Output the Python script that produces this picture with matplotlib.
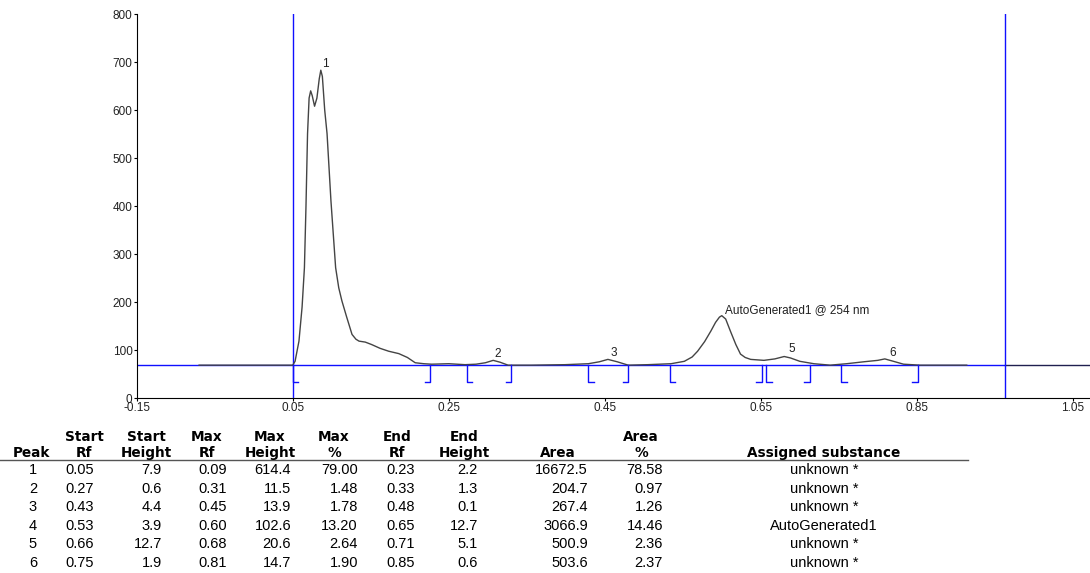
import matplotlib
matplotlib.use("Agg")
import matplotlib.pyplot as plt

plt.rcParams['font.family'] = ['Liberation Sans', 'DejaVu Sans']

# densitogram trace (Rf, AU)
rf = [-0.07, 0.00, 0.05, 0.053, 0.058, 0.062, 0.065, 0.067, 0.069, 0.071, 0.073, 0.075,
      0.078, 0.081, 0.084, 0.086, 0.088, 0.091, 0.094, 0.099, 0.105, 0.109, 0.113, 0.119,
      0.126, 0.131, 0.135, 0.143, 0.151, 0.162, 0.173, 0.186, 0.197, 0.207, 0.218, 0.228,
      0.25, 0.271, 0.285, 0.297, 0.307, 0.316, 0.326, 0.356, 0.399, 0.429, 0.443, 0.454,
      0.466, 0.48, 0.505, 0.535, 0.552, 0.562, 0.569, 0.578, 0.586, 0.592, 0.597, 0.600,
      0.605, 0.611, 0.618, 0.624, 0.630, 0.637, 0.654, 0.668, 0.680, 0.688, 0.70, 0.718,
      0.739, 0.76, 0.782, 0.80, 0.809, 0.82, 0.833, 0.854, 0.914]
au = [69, 69, 69, 77, 119, 190, 272, 400, 551, 625, 640, 630,
      608, 625, 665, 683, 670, 600, 551, 411, 272, 230, 203, 170,
      133, 123, 119, 117, 112, 104, 98, 93, 85, 74, 72, 71,
      72, 70, 71, 74, 79, 75, 69, 69, 70, 72, 76, 81,
      76, 69, 70, 72, 77, 86, 98, 118, 140, 158, 169, 172,
      165, 140, 112, 92, 85, 81, 79, 82, 87, 84, 77, 72,
      69, 72, 76, 79, 82, 77, 71, 69, 69]

baseline = 69
front_rf = 0.963
app_rf = 0.05

# integration limits as drawn
mark_start = [0.05, 0.273, 0.429, 0.533, 0.657, 0.753]
mark_end = [0.226, 0.33, 0.48, 0.651, 0.713, 0.851]

# peak labels
lab_text = ['1', '2', '3', 'AutoGenerated1 @ 254 nm', '5', '6']
lab_x = [0.092, 0.313, 0.461, 0.604, 0.69, 0.819]
lab_y = [695, 92, 95, 184, 103, 95]

# peak table
peak = [1, 2, 3, 4, 5, 6]
start_rf = [0.05, 0.27, 0.43, 0.53, 0.66, 0.75]
start_height = [7.9, 0.6, 4.4, 3.9, 12.7, 1.9]
max_rf = [0.09, 0.31, 0.45, 0.60, 0.68, 0.81]
max_height = [614.4, 11.5, 13.9, 102.6, 20.6, 14.7]
max_pct = [79.00, 1.48, 1.78, 13.20, 2.64, 1.90]
end_rf = [0.23, 0.33, 0.48, 0.65, 0.71, 0.85]
end_height = [2.2, 1.3, 0.1, 12.7, 5.1, 0.6]
area = [16672.5, 204.7, 267.4, 3066.9, 500.9, 503.6]
area_pct = [78.58, 0.97, 1.26, 14.46, 2.36, 2.37]
substance = ['unknown *', 'unknown *', 'unknown *', 'AutoGenerated1', 'unknown *', 'unknown *']

W, H = 1090, 573
fig = plt.figure(figsize=(W / 100, H / 100), dpi=100)
ax = fig.add_axes([136.7 / W, 1 - 398.3 / H, (W - 136.7) / W, (398.3 - 14) / H])

blue = '#1010ff'
ax.plot([-0.15, front_rf], [baseline, baseline], color=blue, lw=1)
ax.plot([front_rf, 1.072], [baseline, baseline], color='#202050', lw=1)
ax.axvline(app_rf, color=blue, lw=1)
ax.axvline(front_rf, color=blue, lw=1)
ax.plot(rf, au, color='#444444', lw=1)

tick = 0.007
low = 33
for s in mark_start:
    ax.plot([s, s, s + tick], [baseline, low, low], color=blue, lw=1)
for e in mark_end:
    ax.plot([e, e, e - tick], [baseline, low, low], color=blue, lw=1)

for t, x, y in zip(lab_text, lab_x, lab_y):
    ax.text(x, y, t, fontsize=8.5, ha='left' if len(t) > 1 else 'center', va='center', color='#202020')

ax.set_xlim(-0.15, 1.072)
ax.set_ylim(0, 800)
ax.set_xticks([-0.15, 0.05, 0.25, 0.45, 0.65, 0.85, 1.05])
ax.set_xticklabels(['-0.15', '0.05', '0.25', '0.45', '0.65', '0.85', '1.05'])
ax.set_yticks(range(0, 801, 100))
ax.tick_params(labelsize=8.5, length=2, width=0.8, pad=1, labelcolor='#222222')
for s in ['top', 'right']:
    ax.spines[s].set_visible(False)
for s in ['left', 'bottom']:
    ax.spines[s].set_linewidth(0.8)

# table under the plot, positions in pixels
def ftext(px, py, s, **kw):
    fig.text(px / W, 1 - py / H, s, va='center', **kw)

heads = [(31, '', 'Peak'), (84, 'Start', 'Rf'), (146, 'Start', 'Height'), (207, 'Max', 'Rf'),
         (270, 'Max', 'Height'), (334, 'Max', '%'), (397, 'End', 'Rf'), (464, 'End', 'Height'),
         (558, '', 'Area'), (641, 'Area', '%'), (824, '', 'Assigned substance')]
for px, l1, l2 in heads:
    if l1:
        ftext(px, 437, l1, ha='center', weight='bold', family='DejaVu Sans', fontsize=9.8)
    ftext(px, 453, l2, ha='center', weight='bold', family='DejaVu Sans', fontsize=9.8)

fig.add_artist(plt.Line2D([0, 968 / W], [1 - 460 / H, 1 - 460 / H], color='#555555', lw=1))

row_y = [470, 489, 507, 526, 544, 563]
for i, py in enumerate(row_y):
    ftext(33, py, str(peak[i]), ha='center', fontsize=10.5)
    ftext(94, py, f'{start_rf[i]:.2f}', ha='right', fontsize=10.5)
    ftext(162, py, f'{start_height[i]:.1f}', ha='right', fontsize=10.5)
    ftext(227, py, f'{max_rf[i]:.2f}', ha='right', fontsize=10.5)
    ftext(291, py, f'{max_height[i]:.1f}', ha='right', fontsize=10.5)
    ftext(358, py, f'{max_pct[i]:.2f}', ha='right', fontsize=10.5)
    ftext(415, py, f'{end_rf[i]:.2f}', ha='right', fontsize=10.5)
    ftext(478, py, f'{end_height[i]:.1f}', ha='right', fontsize=10.5)
    ftext(588, py, f'{area[i]:.1f}', ha='right', fontsize=10.5)
    ftext(663, py, f'{area_pct[i]:.2f}', ha='right', fontsize=10.5)
    ftext(824, py, substance[i], ha='center', fontsize=10.5)

fig.savefig('out.png', dpi=100)
